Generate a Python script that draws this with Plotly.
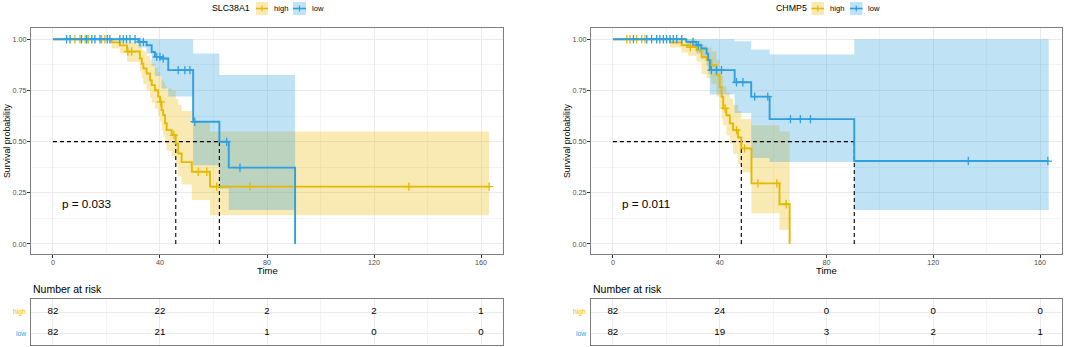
import numpy as np
import plotly.graph_objects as go

W, H = 1065, 347
YEL = "#E7B800"
BLU = "#2E9FDF"
YEL_F = "rgba(231,184,0,0.30)"
BLU_F = "rgba(46,159,223,0.30)"
FONT = "Liberation Sans, Arial, sans-serif"

# ---------------- SLC38A1 (left) ----------------
slc_high_t = [0, 21.9, 25.0, 27.7, 32.5, 33.2, 33.8, 35.0, 36.3, 36.9, 38.1, 39.3, 40.0, 40.6, 41.2, 41.9, 42.5, 44.4, 45.9, 46.8, 48.1, 51.9, 58.7, 163.0]
slc_high_s = [1.0, 0.985, 0.97, 0.94, 0.906, 0.88, 0.857, 0.833, 0.80, 0.776, 0.751, 0.72, 0.694, 0.654, 0.63, 0.59, 0.556, 0.532, 0.49, 0.442, 0.40, 0.353, 0.28, 0.28]
slc_high_lo = [1.0, 0.955, 0.93, 0.89, 0.845, 0.81, 0.78, 0.75, 0.715, 0.69, 0.66, 0.625, 0.60, 0.555, 0.53, 0.49, 0.455, 0.43, 0.38, 0.33, 0.29, 0.215, 0.14, 0.14]
slc_high_up = [1.0, 1.0, 1.0, 0.99, 0.97, 0.95, 0.94, 0.92, 0.90, 0.88, 0.86, 0.84, 0.82, 0.80, 0.79, 0.77, 0.76, 0.75, 0.71, 0.68, 0.65, 0.60, 0.55, 0.55]
slc_high_cens = [8.2, 10.1, 12.0, 13.2, 18.2, 19.4, 28.0, 29.4, 40.3, 45.2, 54.3, 57.5, 61.2, 73.6, 133.0, 163.0]

slc_low_t = [0, 31.9, 35.0, 36.9, 38.1, 40.6, 43.1, 52.4, 62.2, 65.7, 90.5]
slc_low_s = [1.0, 0.987, 0.971, 0.938, 0.914, 0.906, 0.849, 0.597, 0.499, 0.373, 0.0]
slc_low_lo = [1.0, 0.96, 0.93, 0.87, 0.82, 0.76, 0.72, 0.385, 0.27, 0.166, 0.166]
slc_low_up = [1.0, 1.0, 1.0, 1.0, 1.0, 1.0, 1.0, 0.93, 0.826, 0.826, 0.826]
slc_low_cens = [5.1, 6.4, 10.7, 12.6, 14.5, 15.7, 17.6, 20.3, 21.3, 25.0, 26.3, 27.5, 28.8, 30.7, 32.5, 33.8, 38.8, 40.0, 41.2, 46.8, 49.3, 51.2, 53.0, 64.9, 69.9]
slc_medians = [45.9, 62.2]
slc_pval = "p = 0.033"
slc_risk_high = [82, 22, 2, 2, 1]
slc_risk_low = [82, 21, 1, 0, 0]

# ---------------- CHMP5 (right) ----------------
chm_high_t = [0, 21.4, 25.7, 28.2, 31.3, 33.2, 35.1, 36.9, 38.8, 40.0, 40.7, 41.3, 42.5, 43.8, 45.0, 46.9, 48.1, 51.9, 62.4, 66.2]
chm_high_s = [1.0, 0.985, 0.971, 0.962, 0.946, 0.914, 0.898, 0.873, 0.824, 0.767, 0.719, 0.662, 0.629, 0.589, 0.556, 0.52, 0.467, 0.296, 0.194, 0.0]
chm_high_lo = [1.0, 0.96, 0.935, 0.92, 0.89, 0.83, 0.81, 0.78, 0.72, 0.66, 0.61, 0.58, 0.53, 0.49, 0.44, 0.39, 0.35, 0.15, 0.068, 0.068]
chm_high_up = [1.0, 1.0, 1.0, 1.0, 0.99, 0.97, 0.96, 0.94, 0.90, 0.86, 0.82, 0.77, 0.74, 0.71, 0.68, 0.65, 0.61, 0.58, 0.55, 0.55]
chm_high_cens = [5.2, 6.4, 8.9, 10.8, 12.0, 29.0, 42.0, 46.3, 49.3, 54.3, 61.4, 64.9]

chm_low_t = [0, 27.5, 31.3, 33.1, 35.1, 35.7, 36.3, 45.6, 51.8, 58.7, 90.4, 163.2]
chm_low_s = [1.0, 0.987, 0.971, 0.955, 0.93, 0.898, 0.849, 0.79, 0.72, 0.61, 0.405, 0.405]
chm_low_lo = [1.0, 0.96, 0.93, 0.905, 0.87, 0.83, 0.73, 0.64, 0.42, 0.40, 0.166, 0.166]
chm_low_up = [1.0, 1.0, 1.0, 1.0, 1.0, 1.0, 1.0, 0.99, 0.95, 0.925, 1.0, 1.0]
chm_low_cens = [7.7, 12.7, 14.5, 16.4, 17.6, 18.9, 20.1, 21.4, 22.6, 23.9, 25.8, 30.0, 32.0, 36.9, 38.8, 40.7, 46.3, 48.7, 53.1, 58.0, 66.5, 70.2, 74.0, 133.1, 162.9]
chm_medians = [48.1, 90.4]
chm_pval = "p = 0.011"
chm_risk_high = [82, 24, 0, 0, 0]
chm_risk_low = [82, 19, 3, 2, 1]

risk_times = [0, 40, 80, 120, 160]
x_ticks = [0, 40, 80, 120, 160]
y_ticks = [0, 0.25, 0.5, 0.75, 1.0]
y_ticktext = ["0.00", "0.25", "0.50", "0.75", "1.00"]


def step_at(ts, ss, t):
    i = int(np.searchsorted(np.array(ts), t, side="right")) - 1
    return ss[max(i, 0)]


fig = go.Figure()


def add_group(t, lo, up, fillc, xa, ya):
    fig.add_trace(go.Scatter(x=t, y=up, mode="lines", line=dict(width=0, shape="hv"),
                             xaxis=xa, yaxis=ya, showlegend=False, hoverinfo="skip"))
    fig.add_trace(go.Scatter(x=t, y=lo, mode="lines", line=dict(width=0, shape="hv"),
                             fill="tonexty", fillcolor=fillc,
                             xaxis=xa, yaxis=ya, showlegend=False, hoverinfo="skip"))


def add_line(t, s, cens, color, xa, ya):
    fig.add_trace(go.Scatter(x=t, y=s, mode="lines", line=dict(width=1.9, color=color, shape="hv"),
                             xaxis=xa, yaxis=ya, showlegend=False))
    cy = [step_at(t, s, c) for c in cens]
    fig.add_trace(go.Scatter(x=cens, y=cy, mode="markers",
                             marker=dict(symbol="cross-thin", size=6, line=dict(width=1.3, color=color)),
                             xaxis=xa, yaxis=ya, showlegend=False))


def add_medians(meds, xa, ya):
    fig.add_trace(go.Scatter(x=[0, max(meds)], y=[0.5, 0.5], mode="lines",
                             line=dict(color="black", width=1.1, dash="4px,3px"),
                             xaxis=xa, yaxis=ya, showlegend=False))
    for m in meds:
        fig.add_trace(go.Scatter(x=[m, m], y=[0, 0.5], mode="lines",
                                 line=dict(color="black", width=1.1, dash="4px,3px"),
                                 xaxis=xa, yaxis=ya, showlegend=False))


def add_table(rh, rl, xa, ya):
    fig.add_trace(go.Scatter(x=risk_times, y=[1] * 5, mode="text", text=[str(v) for v in rh],
                             textfont=dict(size=9.7, color="black", family=FONT),
                             xaxis=xa, yaxis=ya, showlegend=False))
    fig.add_trace(go.Scatter(x=risk_times, y=[0] * 5, mode="text", text=[str(v) for v in rl],
                             textfont=dict(size=9.7, color="black", family=FONT),
                             xaxis=xa, yaxis=ya, showlegend=False))


# left panel
add_group(slc_high_t, slc_high_lo, slc_high_up, YEL_F, "x", "y")
add_group(slc_low_t, slc_low_lo, slc_low_up, BLU_F, "x", "y")
add_medians(slc_medians, "x", "y")
add_line(slc_high_t, slc_high_s, slc_high_cens, YEL, "x", "y")
add_line(slc_low_t, slc_low_s, slc_low_cens, BLU, "x", "y")
# right panel
add_group(chm_high_t, chm_high_lo, chm_high_up, YEL_F, "x2", "y2")
add_group(chm_low_t, chm_low_lo, chm_low_up, BLU_F, "x2", "y2")
add_medians(chm_medians, "x2", "y2")
add_line(chm_high_t, chm_high_s, chm_high_cens, YEL, "x2", "y2")
add_line(chm_low_t, chm_low_s, chm_low_cens, BLU, "x2", "y2")
# tables
add_table(slc_risk_high, slc_risk_low, "x3", "y3")
add_table(chm_risk_high, chm_risk_low, "x4", "y4")


def px(p):
    return p / W


def py(p):
    return 1 - p / H


XR = [-8.2, 168.2]
main_y_dom = [py(254), py(28)]
tab_y_dom = [py(345), py(299)]
left_dom = [px(31), px(503)]
right_dom = [px(591), px(1062)]

common_x = dict(range=XR, tickvals=x_ticks, ticks="outside", ticklen=3, tickcolor="#333333",
                tickfont=dict(size=7.2, color="#4D4D4D", family=FONT), ticklabelstandoff=-2,
                showgrid=True, gridcolor="#EBEBEB", gridwidth=1,
                minor=dict(tickvals=[20, 60, 100, 140], showgrid=True, gridcolor="#F4F4F4", gridwidth=0.6),
                showline=True, linecolor="#7F7F7F", linewidth=1, mirror=True, zeroline=False)
common_y = dict(range=[-0.049, 1.055], tickvals=y_ticks, ticktext=y_ticktext, ticks="outside", ticklen=3,
                tickcolor="#333333", tickfont=dict(size=7.2, color="#4D4D4D", family=FONT), ticklabelstandoff=-1,
                showgrid=True, gridcolor="#EBEBEB", gridwidth=1,
                minor=dict(tickvals=[0.125, 0.375, 0.625, 0.875], showgrid=True, gridcolor="#F4F4F4", gridwidth=0.6),
                showline=True, linecolor="#7F7F7F", linewidth=1, mirror=True, zeroline=False)
tab_x = dict(range=XR, tickvals=x_ticks, showticklabels=False, ticks="",
             showgrid=True, gridcolor="#EBEBEB", gridwidth=1,
             minor=dict(tickvals=[20, 60, 100, 140], showgrid=True, gridcolor="#F4F4F4", gridwidth=0.6),
             showline=True, linecolor="#7F7F7F", linewidth=1, mirror=True, zeroline=False)
tab_y = dict(range=[-0.57, 1.62], tickvals=[0, 1], showticklabels=False, ticks="",
             showgrid=True, gridcolor="#EBEBEB", gridwidth=1,
             showline=True, linecolor="#7F7F7F", linewidth=1, mirror=True, zeroline=False)

fig.update_layout(
    width=W, height=H, margin=dict(l=0, r=0, t=0, b=0),
    paper_bgcolor="white", plot_bgcolor="white", showlegend=False,
    font=dict(family=FONT),
    xaxis=dict(domain=left_dom, anchor="y", **common_x),
    yaxis=dict(domain=main_y_dom, anchor="x", **common_y),
    xaxis2=dict(domain=right_dom, anchor="y2", **common_x),
    yaxis2=dict(domain=main_y_dom, anchor="x2", **common_y),
    xaxis3=dict(domain=left_dom, anchor="y3", **tab_x),
    yaxis3=dict(domain=tab_y_dom, anchor="x3", **tab_y),
    xaxis4=dict(domain=right_dom, anchor="y4", **tab_x),
    yaxis4=dict(domain=tab_y_dom, anchor="x4", **tab_y),
)

ann = []
shapes = []


def txt(text, x, y, size, color="black", xanchor="left", angle=0, xref="paper", yref="paper"):
    ann.append(dict(text=text, x=x, y=y, xref=xref, yref=yref, showarrow=False, xanchor=xanchor,
                    yanchor="middle", textangle=angle, borderpad=0,
                    font=dict(size=size, color=color, family=FONT)))


def legend(title, tx, b1, htx, b2, ltx):
    yc = 8.5
    txt(title, px(tx), py(yc), 8.8)
    for (a, b), col, fc in [(b1, YEL, YEL_F), (b2, BLU, BLU_F)]:
        shapes.append(dict(type="rect", xref="paper", yref="paper", x0=px(a), x1=px(b), y0=py(2), y1=py(15),
                           fillcolor=fc, line=dict(width=0)))
        shapes.append(dict(type="line", xref="paper", yref="paper", x0=px(a), x1=px(b), y0=py(yc), y1=py(yc),
                           line=dict(color=col, width=1.6)))
        m = (a + b) / 2
        shapes.append(dict(type="line", xref="paper", yref="paper", x0=px(m), x1=px(m), y0=py(yc - 3), y1=py(yc + 3),
                           line=dict(color=col, width=1.1)))
    txt("high", px(htx), py(yc), 7.6)
    txt("low", px(ltx), py(yc), 7.6)


legend("SLC38A1", 211, (256, 268), 272.5, (293, 306), 310.5)
legend("CHMP5", 775, (811.5, 824), 828.5, (850, 862.5), 867)

for x0, x1, ax, pv in [(31, 503, "x", slc_pval), (591, 1062, "x2", chm_pval)]:
    txt("Survival probability", px(x0 - 24), py(141), 8.8, angle=-90, xanchor="center")
    txt("Time", px((x0 + x1) / 2), py(270.5), 9.5, xanchor="center")
    txt("Number at risk", px(x0 + 1), py(289), 10.5)
    txt("high", px(x0 - 4), py(312), 6.8, color=YEL, xanchor="right")
    txt("low", px(x0 - 4), py(333), 6.8, color=BLU, xanchor="right")
    txt(pv, 2.9, 0.2, 11.7, xref=ax, yref="y" if ax == "x" else "y2")

fig.update_layout(annotations=ann, shapes=shapes)
fig.write_html("out.html", config={"displayModeBar": False},
               post_script="document.body.style.margin='0';document.body.style.padding='0';document.body.style.overflow='hidden';")
